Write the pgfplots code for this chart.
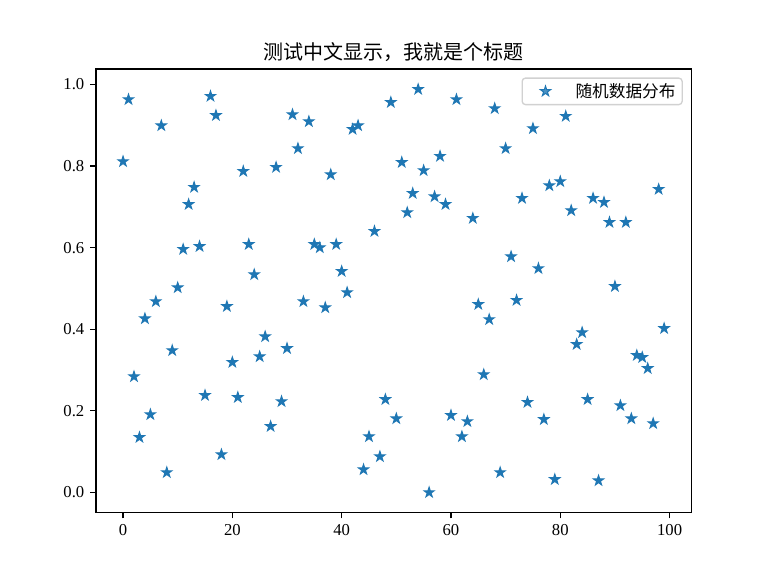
\documentclass[border=0pt]{standalone}
\usepackage{pgfplots}
\pgfplotsset{compat=1.18}
\usepackage{fontspec}
\setmainfont{Liberation Serif}
\newfontfamily\cjk{Noto Sans CJK SC}
\definecolor{tabblue}{HTML}{1F77B4}
\pgfdeclareplotmark{fstar}{%
  \pgfpathmoveto{\pgfqpointpolar{90}{\pgfplotmarksize}}%
  \pgfpathlineto{\pgfqpointpolar{126}{0.382\pgfplotmarksize}}%
  \pgfpathlineto{\pgfqpointpolar{162}{\pgfplotmarksize}}%
  \pgfpathlineto{\pgfqpointpolar{198}{0.382\pgfplotmarksize}}%
  \pgfpathlineto{\pgfqpointpolar{234}{\pgfplotmarksize}}%
  \pgfpathlineto{\pgfqpointpolar{270}{0.382\pgfplotmarksize}}%
  \pgfpathlineto{\pgfqpointpolar{306}{\pgfplotmarksize}}%
  \pgfpathlineto{\pgfqpointpolar{342}{0.382\pgfplotmarksize}}%
  \pgfpathlineto{\pgfqpointpolar{18}{\pgfplotmarksize}}%
  \pgfpathlineto{\pgfqpointpolar{54}{0.382\pgfplotmarksize}}%
  \pgfpathclose
  \pgfusepathqfillstroke}
\pgfplotstableread{
x y
0 0.811
1 0.963
2 0.284
3 0.135
4 0.426
5 0.191
6 0.468
7 0.899
8 0.049
9 0.348
10 0.502
11 0.596
12 0.706
13 0.748
14 0.603
15 0.238
16 0.971
17 0.924
18 0.093
19 0.456
20 0.319
21 0.233
22 0.787
23 0.608
24 0.534
25 0.333
26 0.382
27 0.162
28 0.797
29 0.223
30 0.353
31 0.926
32 0.843
33 0.468
34 0.909
35 0.608
36 0.600
37 0.453
38 0.779
39 0.608
40 0.542
41 0.490
42 0.890
43 0.899
44 0.056
45 0.137
46 0.640
47 0.088
48 0.228
49 0.956
50 0.181
51 0.809
52 0.686
53 0.733
54 0.988
55 0.789
56 0.000
57 0.725
58 0.824
59 0.706
60 0.189
61 0.963
62 0.137
63 0.174
64 0.672
65 0.461
66 0.289
67 0.424
68 0.941
69 0.049
70 0.843
71 0.578
72 0.471
73 0.721
74 0.221
75 0.892
76 0.549
77 0.179
78 0.752
79 0.032
80 0.762
81 0.922
82 0.691
83 0.363
84 0.392
85 0.228
86 0.721
87 0.029
88 0.711
89 0.662
90 0.505
91 0.213
92 0.662
93 0.181
94 0.336
95 0.331
96 0.304
97 0.169
98 0.743
99 0.402
}\datatable
\begin{document}
\begin{tikzpicture}[x=1pt,y=1pt]
\fill[white] (0,0) rectangle (460.8,345.6);
\begin{axis}[
  at={(57.6pt,38.04pt)}, anchor=south west,
  scale only axis, width=357.1pt, height=266.1pt,
  xmin=-4.95, xmax=103.95, ymin=-0.0494, ymax=1.0374,
  xtick={0,20,40,60,80,100},
  ytick={0,0.2,0.4,0.6,0.8,1.0},
  yticklabel style={/pgf/number format/.cd,fixed,fixed zerofill,precision=1},
  /pgf/number format/assume math mode=true,
  tick label style={font=\fontsize{10}{12}\selectfont},
  tick align=outside, tick pos=left,
  major tick length=3.5pt,
  axis line style={line width=0.8pt},
  every tick/.style={line width=0.8pt, black},
  title={\cjk 测试中文显示，我就是个标题},
  title style={font=\fontsize{12}{14}\selectfont, yshift=-5pt},
  legend style={font=\fontsize{10}{12}\selectfont\cjk, draw=black!18, line width=0.8pt, rounded corners=2pt, fill=white, fill opacity=0.8, text opacity=1, at={(1,1)}, xshift=-5pt, yshift=-5pt, anchor=north east, inner xsep=4pt, inner ysep=3pt, nodes={inner sep=0pt}, column sep=8pt},
  legend cell align=left,
  legend image code/.code={\path[draw=none,fill=none] (0pt,-3pt) rectangle (20pt,3pt); \draw[#1] plot coordinates {(10pt,0pt)};},
]
\addplot[only marks, mark=fstar, mark size=3.2pt, color=tabblue, mark options={line width=0.6pt, line join=miter, sharp corners}] table[x=x,y=y] {\datatable};
\addlegendentry{随机数据分布}
\end{axis}
\end{tikzpicture}
\end{document}
